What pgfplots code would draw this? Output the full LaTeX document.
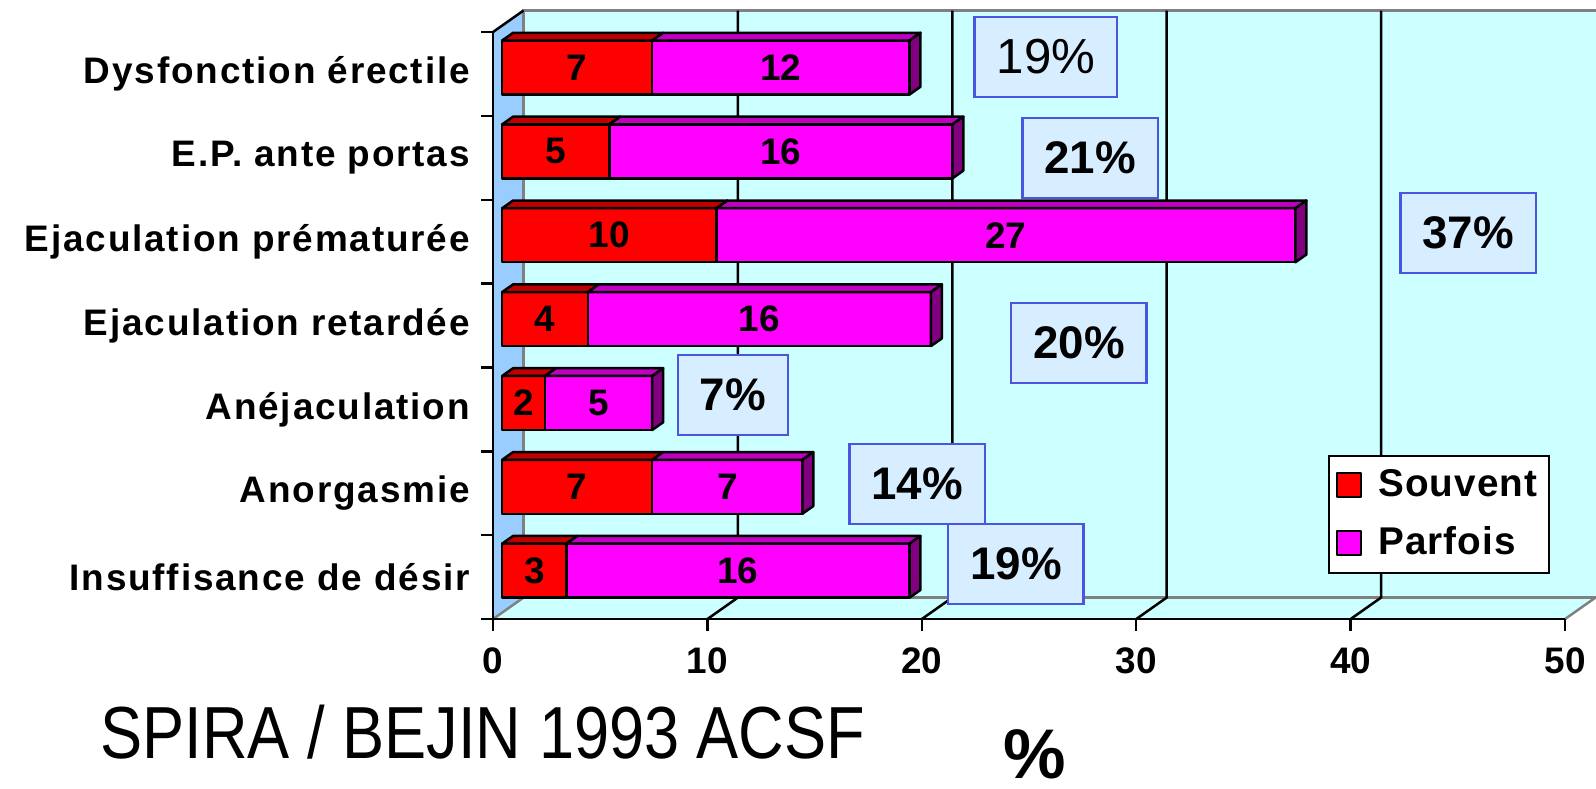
\documentclass[border=0pt]{standalone}
\usepackage{pgfplots}
\pgfplotsset{compat=1.18}
\usepackage{pgfplotstable}
\usepackage{fontspec}
\setmainfont{Liberation Sans}

\definecolor{backwall}{HTML}{CCFFFF}
\definecolor{leftwall}{HTML}{99CCFF}
\definecolor{souventfront}{HTML}{FF0000}
\definecolor{souventtop}{HTML}{C00000}
\definecolor{parfoisfront}{HTML}{FF00FF}
\definecolor{parfoistop}{HTML}{C000C0}
\definecolor{parfoisside}{HTML}{800080}
\definecolor{edgegray}{HTML}{808080}
\definecolor{boxfill}{HTML}{D6EEFF}
\definecolor{boxdraw}{HTML}{4A55E0}

% idx 0 = bottom category
\pgfplotstableread{
idx s p tot
0 3 16 19
1 7 7 14
2 2 5 7
3 4 16 20
4 10 27 37
5 5 16 21
6 7 12 19
}\datatable

\pgfplotsset{
  common/.style={
    x=0.2144cm, y=0.8386cm,
    xmin=0, xmax=50, ymin=-0.5, ymax=6.5,
    clip=false, at={(0,0)}, anchor=south west,
  },
  bg/.style={common, hide axis},
}

\begin{document}
\begin{tikzpicture}[
  barline/.style={draw=black, line width=0.025cm, line join=round},
  lw/.style={line width=0.025cm},
  vallabel/.style={font=\fontsize{10.5}{12}\selectfont\bfseries, inner sep=0pt},
  pbox/.style={draw=boxdraw, fill=boxfill, line width=0.025cm, inner xsep=0.22cm, minimum height=0.8cm},
]
% ---- layer 1: walls and floor
\begin{axis}[bg]
\fill[backwall] (axis cs:1.4226,-0.2436) rectangle (axis cs:51.4226,6.7564);
\fill[backwall] (axis cs:0,-0.5) -- (axis cs:50,-0.5) -- (axis cs:51.4226,-0.2436) -- (axis cs:1.4226,-0.2436) -- cycle;
\fill[leftwall] (axis cs:0,-0.5) -- (axis cs:0,6.5) -- (axis cs:1.4226,6.7564) -- (axis cs:1.4226,-0.2436) -- cycle;
\end{axis}
% ---- layer 2: edges, gridlines, axes, ticks
\begin{axis}[bg]
\draw[edgegray, lw] (axis cs:1.4226,-0.2436) -- (axis cs:51.4226,-0.2436);
\draw[edgegray, lw] (axis cs:1.4226,-0.2436) -- (axis cs:1.4226,6.7564) -- (axis cs:51.4226,6.7564);
\draw[edgegray, lw] (axis cs:0,-0.5) -- (axis cs:1.4226,-0.2436);
\draw[edgegray, lw] (axis cs:50,-0.5) -- (axis cs:51.4226,-0.2436);
\draw[black, lw] (axis cs:10,-0.5) -- (axis cs:11.4226,-0.2436) -- (axis cs:11.4226,6.7564);
\draw[black, lw] (axis cs:20,-0.5) -- (axis cs:21.4226,-0.2436) -- (axis cs:21.4226,6.7564);
\draw[black, lw] (axis cs:30,-0.5) -- (axis cs:31.4226,-0.2436) -- (axis cs:31.4226,6.7564);
\draw[black, lw] (axis cs:40,-0.5) -- (axis cs:41.4226,-0.2436) -- (axis cs:41.4226,6.7564);
\draw[black, lw] (axis cs:0,6.5) -- (axis cs:1.4226,6.7564);
\draw[black, lw] (axis cs:0,-0.5) -- (axis cs:50,-0.5);
\draw[black, lw] (axis cs:0,-0.5) -- (axis cs:0,6.5);
\pgfplotsinvokeforeach{0,10,20,30,40,50}{\draw[black, lw] (axis cs:#1,-0.5) -- (axis cs:#1,-0.643);}
\pgfplotsinvokeforeach{-0.5,0.5,1.5,2.5,3.5,4.5,5.5,6.5}{\draw[black, lw] (axis cs:0,#1) -- (axis cs:-0.56,#1);}
\end{axis}
% ---- layer 3: bars, tick labels, legend
\begin{axis}[
  common,
  axis lines*=left,
  axis line style={draw=none},
  major tick length=0pt,
  xtick={0,10,20,30,40,50},
  ytick={0,1,2,3,4,5,6},
  yticklabels={Insuffisance de désir, Anorgasmie, Anéjaculation, Ejaculation retardée, Ejaculation prématurée, E.P. ante portas, Dysfonction érectile},
  xticklabel style={font=\fontsize{10.5}{12}\selectfont\bfseries, yshift=-0.16cm},
  yticklabel style={font=\fontsize{10.5}{12}\selectfont\bfseries\addfontfeatures{LetterSpace=5}, xshift=-0.107cm},
  /pgf/number format/assume math mode=true,
  xbar stacked,
  bar width=0.644,
  legend cell align=left,
  legend style={at={(0.779,0.2794)}, anchor=north west, draw=black, line width=0.02cm, fill=white,
    font=\fontsize{11}{13}\selectfont\bfseries\addfontfeatures{LetterSpace=3},
    inner xsep=0.04cm, inner ysep=0.06cm, row sep=0.11cm},
]
\addplot[draw=none, fill=none, forget plot] table[x expr=0.4268, y expr=\thisrow{idx}+0.0769] {\datatable};
\addplot[fill=souventfront, barline,
  legend image code/.code={\path[draw=none,fill=none] (0cm,-0.1cm) rectangle (0.38cm,0.1cm);\draw[fill=souventfront, draw=black, line width=0.02cm] (0.04cm,-0.12cm) rectangle (0.28cm,0.12cm);}]
  table[x=s, y expr=\thisrow{idx}+0.0769] {\datatable};
\addlegendentry{Souvent}
\addplot[fill=parfoisfront, barline,
  legend image code/.code={\path[draw=none,fill=none] (0cm,-0.1cm) rectangle (0.38cm,0.1cm);\draw[fill=parfoisfront, draw=black, line width=0.02cm] (0.04cm,-0.12cm) rectangle (0.28cm,0.12cm);}]
  table[x=p, y expr=\thisrow{idx}+0.0769] {\datatable};
\addlegendentry{Parfois}
\end{axis}
% ---- layer 4: 3D faces, value labels, percentage boxes, texts
\begin{axis}[bg]
\pgfplotsinvokeforeach{0,...,6}{%
  \pgfplotstablegetelem{#1}{s}\of\datatable \edef\vs{\pgfplotsretval}%
  \pgfplotstablegetelem{#1}{p}\of\datatable \edef\vp{\pgfplotsretval}%
  \pgfmathsetmacro\xa{0.4268}%
  \pgfmathsetmacro\xb{0.4268+\vs}%
  \pgfmathsetmacro\xc{0.4268+\vs+\vp}%
  \pgfmathsetmacro\xad{\xa+0.5121}%
  \pgfmathsetmacro\xbd{\xb+0.5121}%
  \pgfmathsetmacro\xcd{\xc+0.5121}%
  \pgfmathsetmacro\yt{#1+0.0769+0.322}%
  \pgfmathsetmacro\yb{#1+0.0769-0.322}%
  \pgfmathsetmacro\ytd{\yt+0.0923}%
  \pgfmathsetmacro\ybd{\yb+0.0923}%
  \pgfmathsetmacro\ym{#1+0.0769}%
  \pgfmathsetmacro\xms{0.4268+\vs/2}%
  \pgfmathsetmacro\xmp{0.4268+\vs+\vp/2}%
  \edef\tmp{%
    \noexpand\filldraw[fill=souventtop,barline] (axis cs:\xa,\yt) -- (axis cs:\xb,\yt) -- (axis cs:\xbd,\ytd) -- (axis cs:\xad,\ytd) -- cycle;
    \noexpand\filldraw[fill=parfoistop,barline] (axis cs:\xb,\yt) -- (axis cs:\xc,\yt) -- (axis cs:\xcd,\ytd) -- (axis cs:\xbd,\ytd) -- cycle;
    \noexpand\filldraw[fill=parfoisside,barline] (axis cs:\xc,\yb) -- (axis cs:\xc,\yt) -- (axis cs:\xcd,\ytd) -- (axis cs:\xcd,\ybd) -- cycle;
    \noexpand\node[vallabel] at (axis cs:\xms,\ym) {\vs};
    \noexpand\node[vallabel] at (axis cs:\xmp,\ym) {\vp};
  }%
  \tmp
}
\node[pbox, font=\fontsize{14}{16}\selectfont] at (axis cs:25.79,6.202) {19\%};
\node[pbox, font=\fontsize{13}{15}\selectfont\bfseries] at (axis cs:27.85,4.997) {21\%};
\node[pbox, font=\fontsize{13}{15}\selectfont\bfseries] at (axis cs:45.48,4.103) {37\%};
\node[pbox, font=\fontsize{13}{15}\selectfont\bfseries] at (axis cs:27.33,2.791) {20\%};
\node[pbox, font=\fontsize{13}{15}\selectfont\bfseries] at (axis cs:11.19,2.171) {7\%};
\node[pbox, font=\fontsize{13}{15}\selectfont\bfseries] at (axis cs:19.78,1.110) {14\%};
\node[pbox, font=\fontsize{13}{15}\selectfont\bfseries] at (axis cs:24.39,0.156) {19\%};
\node[anchor=base west, inner sep=0pt, font=\fontsize{21}{25}\selectfont\addfontfeatures{FakeStretch=0.855}] at (axis cs:-18.33,-2.16) {SPIRA / BEJIN 1993 ACSF};
\node[anchor=base west, inner sep=0pt, font=\fontsize{20}{24}\selectfont\bfseries] at (axis cs:23.79,-2.40) {\raisebox{0pt}[\height][0pt]{\%}};
\coordinate (BL) at (axis cs:-22.994,-2.515);
\coordinate (TR) at (axis cs:51.446,6.882);
\end{axis}
\pgfresetboundingbox
\path[use as bounding box] (BL) rectangle (TR);
\end{tikzpicture}
\end{document}
